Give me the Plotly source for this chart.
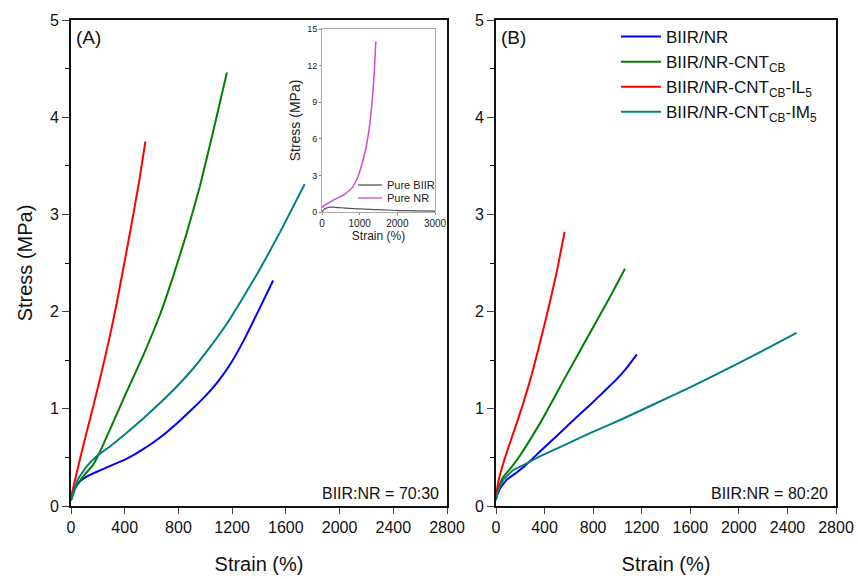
import plotly.graph_objects as go

# ---------------- data: stress-strain curves ----------------
# (A) BIIR:NR = 70:30
a_biir_nr_x = [0, 25, 63, 113, 188, 288, 413, 538, 663, 788, 913, 1000, 1100, 1200, 1300, 1400, 1505]
a_biir_nr_y = [0.06, 0.17, 0.25, 0.30, 0.35, 0.41, 0.485, 0.585, 0.705, 0.85, 1.01, 1.13, 1.29, 1.49, 1.74, 2.02, 2.32]

a_cnt_x = [0, 38, 100, 163, 213, 288, 413, 538, 663, 760, 860, 960, 1060, 1161]
a_cnt_y = [0.06, 0.20, 0.32, 0.42, 0.55, 0.78, 1.17, 1.55, 1.97, 2.36, 2.80, 3.29, 3.86, 4.46]

a_il_x = [0, 25, 63, 113, 163, 225, 290, 345, 400, 460, 510, 554]
a_il_y = [0.08, 0.24, 0.46, 0.74, 1.01, 1.36, 1.75, 2.12, 2.52, 2.97, 3.36, 3.75]

a_im_x = [0, 50, 113, 188, 288, 413, 538, 663, 788, 913, 1038, 1163, 1275, 1400, 1554, 1740]
a_im_y = [0.06, 0.27, 0.40, 0.51, 0.61, 0.75, 0.90, 1.06, 1.23, 1.42, 1.64, 1.88, 2.13, 2.42, 2.81, 3.31]

# (B) BIIR:NR = 80:20
b_biir_nr_x = [0, 33, 88, 170, 253, 362, 500, 678, 774, 900, 994, 1070, 1160]
b_biir_nr_y = [0.08, 0.18, 0.27, 0.345, 0.43, 0.56, 0.72, 0.93, 1.04, 1.19, 1.305, 1.41, 1.56]

b_cnt_x = [0, 25, 60, 115, 198, 280, 362, 460, 560, 680, 800, 930, 1062]
b_cnt_y = [0.08, 0.20, 0.30, 0.38, 0.52, 0.68, 0.85, 1.07, 1.30, 1.57, 1.84, 2.13, 2.44]

b_il_x = [0, 19, 60, 115, 170, 225, 294, 362, 431, 499, 565]
b_il_y = [0.10, 0.25, 0.44, 0.65, 0.85, 1.06, 1.35, 1.68, 2.03, 2.40, 2.82]

b_im_x = [0, 19, 60, 143, 225, 362, 500, 774, 1049, 1323, 1598, 2063, 2475]
b_im_y = [0.06, 0.16, 0.27, 0.37, 0.42, 0.51, 0.59, 0.75, 0.90, 1.06, 1.22, 1.51, 1.78]

# inset: pure rubbers
pure_biir_x = [0, 50, 100, 200, 350, 500, 1000, 1500, 2000, 2500, 3000]
pure_biir_y = [0.0, 0.2, 0.3, 0.4, 0.38, 0.35, 0.25, 0.2, 0.12, 0.1, 0.07]

pure_nr_x = [0, 50, 300, 600, 800, 930, 1030, 1150, 1250, 1320, 1370, 1400, 1430]
pure_nr_y = [0.35, 0.5, 0.97, 1.45, 2.0, 2.7, 3.6, 5.0, 6.8, 8.7, 10.6, 12.2, 14.0]

series_names = ["BIIR/NR", "BIIR/NR-CNT<sub>CB</sub>",
                "BIIR/NR-CNT<sub>CB</sub>-IL<sub>5</sub>",
                "BIIR/NR-CNT<sub>CB</sub>-IM<sub>5</sub>"]
series_colors = ["#0000FF", "#008000", "#FF0000", "#008080"]

inset_names = ["Pure BIIR", "Pure NR"]
inset_colors = ["#555555", "#D24BD2"]

strain_ticks = [0, 400, 800, 1200, 1600, 2000, 2400, 2800]
stress_ticks = [0, 1, 2, 3, 4, 5]
inset_strain_ticks = [0, 1000, 2000, 3000]
inset_stress_ticks = [0, 3, 6, 9, 12, 15]

FONT = "Liberation Sans, Arial, sans-serif"

# ---------------- figure geometry (pixels) ----------------
W, H = 858, 579
ML, MR, MT, MB = 71, 22, 20, 73
PW, PH = W - ML - MR, H - MT - MB


def px_x(p):
    return (p - ML) / PW


def px_y(p):
    return (H - MB - p) / PH


fig = go.Figure()

panel_a = [(a_biir_nr_x, a_biir_nr_y), (a_cnt_x, a_cnt_y), (a_il_x, a_il_y), (a_im_x, a_im_y)]
panel_b = [(b_biir_nr_x, b_biir_nr_y), (b_cnt_x, b_cnt_y), (b_il_x, b_il_y), (b_im_x, b_im_y)]

for (x, y), name, col in zip(panel_a, series_names, series_colors):
    fig.add_trace(go.Scatter(x=x, y=y, mode="lines", name=name, showlegend=False,
                             line=dict(color=col, width=2, shape="spline", smoothing=0.35),
                             xaxis="x", yaxis="y"))
for (x, y), name, col in zip(panel_b, series_names, series_colors):
    fig.add_trace(go.Scatter(x=x, y=y, mode="lines", name=name, legend="legend",
                             line=dict(color=col, width=2, shape="spline", smoothing=0.35),
                             xaxis="x2", yaxis="y2"))

fig.add_trace(go.Scatter(x=pure_biir_x, y=pure_biir_y, mode="lines", name=inset_names[0],
                         showlegend=False,
                         line=dict(color=inset_colors[0], width=1.2, shape="spline"),
                         xaxis="x3", yaxis="y3"))
fig.add_trace(go.Scatter(x=pure_nr_x, y=pure_nr_y, mode="lines", name=inset_names[1],
                         showlegend=False,
                         line=dict(color=inset_colors[1], width=1.5, shape="spline", smoothing=0.6),
                         xaxis="x3", yaxis="y3"))

main_x = dict(range=[0, 2800], tickvals=strain_ticks, ticks="outside", ticklen=6, tickwidth=1.3,
              showline=True, mirror=True, linecolor="#111", linewidth=1.6, showgrid=False,
              zeroline=False, automargin=False, tickfont=dict(size=16, color="#111", family=FONT),
              title=dict(text="Strain (%)", font=dict(size=20, color="#111", family=FONT), standoff=22))
main_y = dict(range=[0, 5], tickvals=stress_ticks, ticks="outside", ticklen=7, tickwidth=1.3,
              minor=dict(dtick=0.5, ticks="outside", ticklen=4, tickwidth=1.1, tickcolor="#111"),
              showline=True, mirror=True, linecolor="#111", linewidth=1.6, showgrid=False,
              zeroline=False, automargin=False, tickfont=dict(size=16, color="#111", family=FONT))

# compact key for the inset (short line + label per curve)
inset_key_shapes = []
inset_key_labels = []
for i, (name, col) in enumerate(zip(inset_names, inset_colors)):
    yk = px_y(185 + 13 * i)
    inset_key_shapes.append(dict(type="line", xref="paper", yref="paper",
                                 x0=px_x(358), x1=px_x(382), y0=yk, y1=yk,
                                 line=dict(color=col, width=1.3)))
    inset_key_labels.append(dict(text=name, x=px_x(385), y=yk, xref="paper", yref="paper",
                                 xanchor="left", yanchor="middle", showarrow=False,
                                 font=dict(size=11, color="#222", family=FONT)))

fig.update_layout(
    width=W, height=H,
    margin=dict(l=ML, r=MR, t=MT, b=MB),
    paper_bgcolor="white", plot_bgcolor="white",
    font=dict(family=FONT, color="#111"),
    xaxis=dict(domain=[0, px_x(447)], anchor="y", **main_x),
    yaxis=dict(domain=[0, 1], anchor="x",
               title=dict(text="Stress (MPa)", font=dict(size=20, color="#111", family=FONT), standoff=12),
               **main_y),
    xaxis2=dict(domain=[px_x(496), 1], anchor="y2", **main_x),
    yaxis2=dict(domain=[0, 1], anchor="x2", **main_y),
    xaxis3=dict(domain=[px_x(322), px_x(435)], anchor="y3", range=[0, 3000],
                tickvals=inset_strain_ticks, ticks="outside", ticklen=2, tickcolor="#888",
                showline=True, mirror=True, linecolor="#aaaaaa", linewidth=1, showgrid=False,
                zeroline=False, automargin=False, tickfont=dict(size=10, color="#222", family=FONT),
                title=dict(text="Strain (%)", font=dict(size=12, color="#222", family=FONT), standoff=1)),
    yaxis3=dict(domain=[px_y(212), px_y(29)], anchor="x3", range=[0, 15],
                tickvals=inset_stress_ticks, ticks="outside", ticklen=2, tickcolor="#888",
                showline=True, mirror=True, linecolor="#aaaaaa", linewidth=1, showgrid=False,
                zeroline=False, automargin=False, tickfont=dict(size=9, color="#222", family=FONT),
                title=dict(text="Stress (MPa)", font=dict(size=14, color="#222", family=FONT), standoff=3)),
    legend=dict(x=px_x(616), y=px_y(19), xanchor="left", yanchor="top",
                bgcolor="rgba(0,0,0,0)", font=dict(size=17, color="#111", family=FONT),
                itemwidth=40, tracegroupgap=0),
    shapes=[dict(type="rect", xref="paper", yref="paper", layer="below",
                 x0=px_x(322), x1=px_x(435), y0=px_y(212), y1=px_y(29),
                 fillcolor="white", line=dict(width=0))] + inset_key_shapes,
    annotations=[
        dict(text="(A)", x=px_x(74), y=px_y(37), xref="paper", yref="paper", xanchor="left",
             yanchor="middle", showarrow=False, font=dict(size=19, color="#111", family=FONT)),
        dict(text="(B)", x=px_x(499), y=px_y(37), xref="paper", yref="paper", xanchor="left",
             yanchor="middle", showarrow=False, font=dict(size=19, color="#111", family=FONT)),
        dict(text="BIIR:NR = 70:30", x=px_x(441), y=px_y(493), xref="paper", yref="paper",
             xanchor="right", yanchor="middle", showarrow=False,
             font=dict(size=16, color="#111", family=FONT)),
        dict(text="BIIR:NR = 80:20", x=px_x(830), y=px_y(493), xref="paper", yref="paper",
             xanchor="right", yanchor="middle", showarrow=False,
             font=dict(size=16, color="#111", family=FONT)),
    ] + inset_key_labels,
)

fig.write_html("out.html")
